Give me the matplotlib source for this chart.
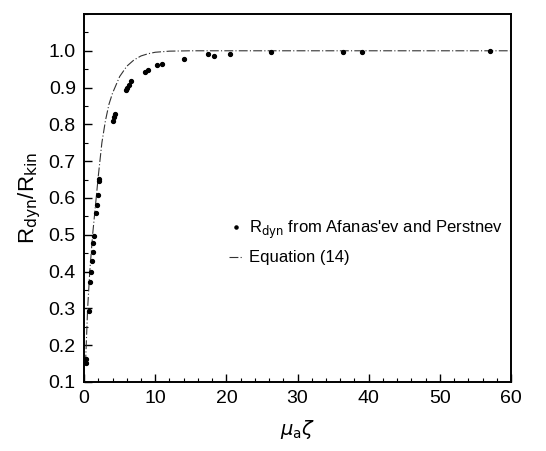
import matplotlib
matplotlib.use("Agg")
import matplotlib.pyplot as plt
from matplotlib.ticker import MultipleLocator

plt.rcParams['font.family'] = ['Liberation Sans', 'DejaVu Sans']

# Data points (R_dyn from Afanas'ev and Perstnev)
data_x = [0.28, 0.28, 0.66, 0.84, 0.98, 1.12, 1.22, 1.31, 1.41, 1.69, 1.83, 1.97, 2.11, 2.11,
          4.03, 4.2, 4.36, 5.9, 6.09, 6.28, 6.56, 8.57, 9.04, 10.2, 11.0, 14.1, 17.4, 18.3,
          20.5, 26.3, 36.4, 39.0, 57.0]
data_y = [0.151, 0.162, 0.294, 0.373, 0.40, 0.43, 0.453, 0.479, 0.497, 0.56, 0.582, 0.608, 0.646, 0.651,
          0.81, 0.82, 0.829, 0.894, 0.90, 0.908, 0.917, 0.943, 0.948, 0.962, 0.965, 0.978, 0.99, 0.986,
          0.99, 0.996, 0.996, 0.998, 1.0]

# Equation (14) curve
eq_x = [0.2, 0.5, 0.8, 1.2, 1.6, 2.0, 2.5, 3.0, 3.5, 4.0, 5.0, 6.0, 7.0, 8.0, 9.0, 10.0,
        12.0, 15.0, 20.0, 30.0, 40.0, 50.0, 60.0]
eq_y = [0.15, 0.30, 0.40, 0.50, 0.58, 0.66, 0.75, 0.81, 0.855, 0.885, 0.93, 0.958, 0.975, 0.986,
        0.992, 0.996, 0.999, 1.0, 1.0, 1.0, 1.0, 1.0, 1.0]

fig = plt.figure(figsize=(5.46, 4.51), dpi=100)
ax = fig.add_axes([0.154, 0.153, 0.782, 0.816])

ax.plot(eq_x, eq_y, color='#333333', lw=0.8, linestyle=(0, (8, 2, 1, 2)), label='Equation (14)')
ax.plot(data_x, data_y, linestyle='none', marker='o', ms=2.8, color='black',
        label="R$_{\\rm dyn}$ from Afanas'ev and Perstnev")

ax.set_xlim(0, 60)
ax.set_ylim(0.1, 1.1)
ax.set_xticks([0, 10, 20, 30, 40, 50, 60])
yt = [0.1, 0.2, 0.3, 0.4, 0.5, 0.6, 0.7, 0.8, 0.9, 1.0]
ax.set_yticks(yt)
ax.set_yticklabels([f"{v:.1f}" for v in yt])
ax.xaxis.set_minor_locator(MultipleLocator(2))
ax.yaxis.set_minor_locator(MultipleLocator(0.05))
ax.tick_params(which='both', direction='in', top=False, right=False, labelsize=14)
ax.tick_params(which='major', length=6, width=1, pad=6)
ax.tick_params(which='minor', length=3, width=0.8)
for s in ax.spines.values():
    s.set_linewidth(1.4)

ax.set_xlabel(r'$\mu_{\rm a}\zeta$', fontsize=14, labelpad=8)
ax.set_ylabel(r'R$_{\rm dyn}$/R$_{\rm kin}$', fontsize=16, labelpad=4)

handles, labels = ax.get_legend_handles_labels()
ax.legend(handles[::-1], labels[::-1], loc='center left', bbox_to_anchor=(0.305, 0.38),
          frameon=False, fontsize=12, handlelength=0.8, handletextpad=0.4, labelspacing=0.55,
          markerscale=0.8)

fig.savefig('out.png', dpi=100)
